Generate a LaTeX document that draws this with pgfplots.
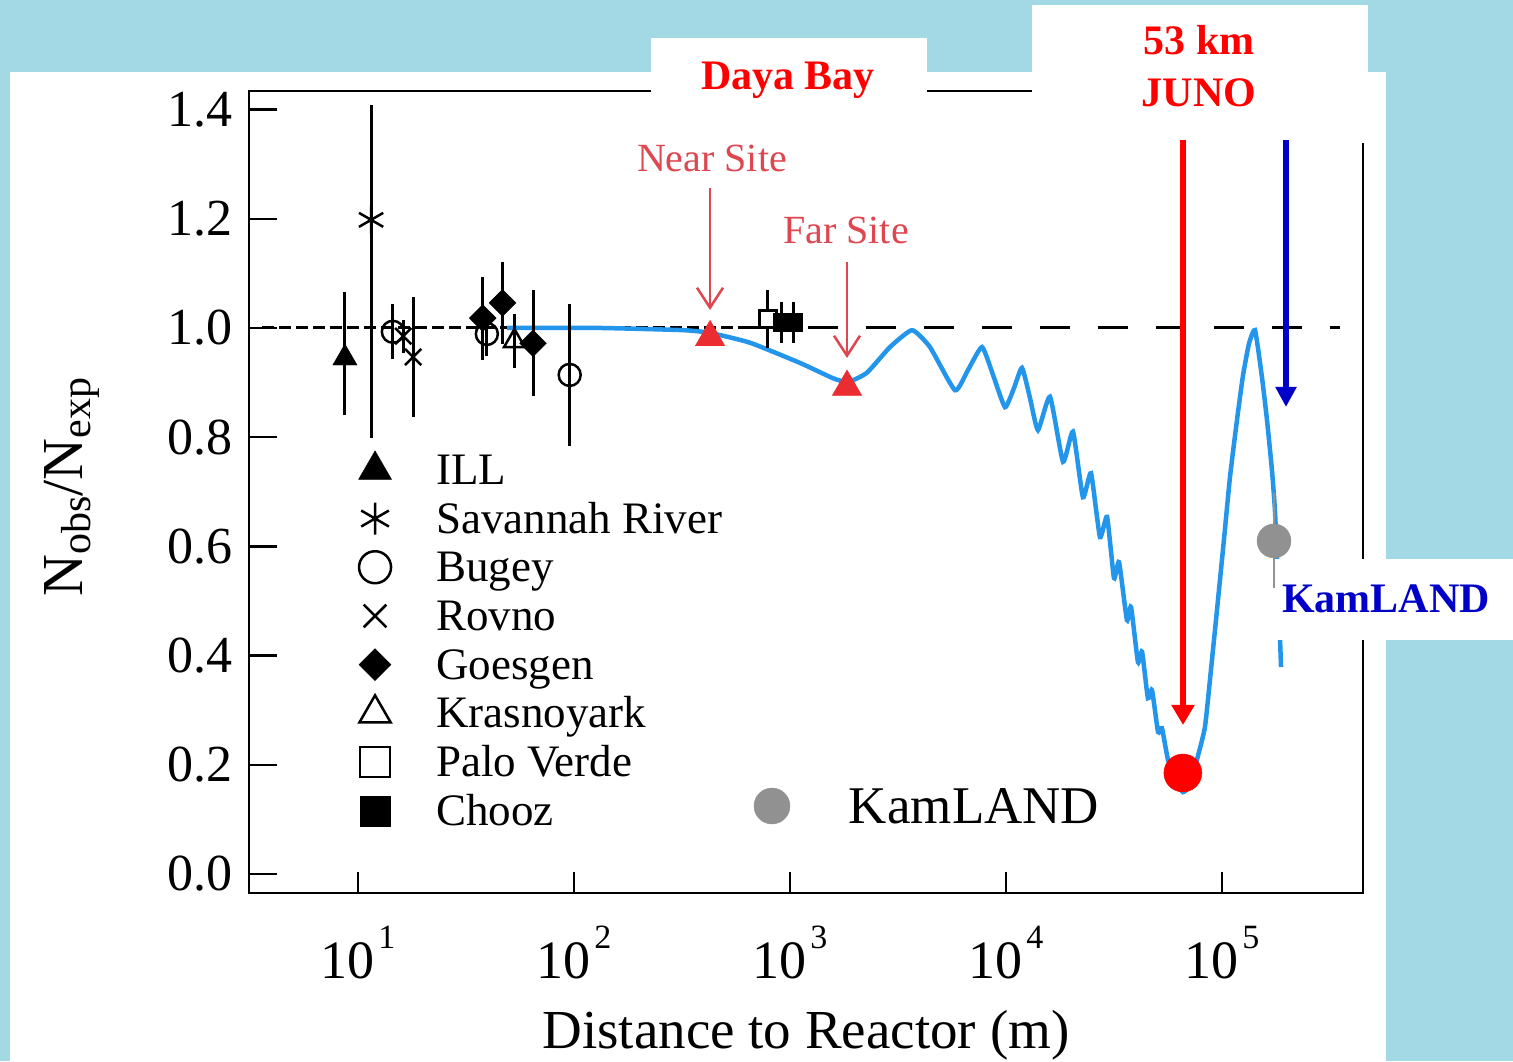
\documentclass[border=0pt]{standalone}
\usepackage{fontspec}
\setmainfont{Liberation Serif}
\usepackage{pgfplots}
\pgfplotsset{compat=1.18}
\usetikzlibrary{arrows.meta}
\definecolor{bgblue}{RGB}{163,217,228}
\definecolor{curveblue}{RGB}{35,150,235}
\definecolor{siteRed}{RGB}{222,70,80}
\definecolor{triRed}{RGB}{235,45,50}
\definecolor{kamblue}{RGB}{0,0,200}
\definecolor{kamgray}{RGB}{145,145,145}
\newcommand{\xl}[1]{10\hspace{4pt}\raisebox{30pt}{\fontsize{34}{34}\selectfont #1}}
\pgfplotsset{
  dataerr/.style={only marks, black, forget plot,
    error bars/y dir=both, error bars/y explicit, error bars/error mark=none,
    error bars/error bar style={line width=3pt, black}},
}
\begin{document}
\begin{tikzpicture}[x=1pt,y=1pt]
\useasboundingbox (0,0) rectangle (1513,1061);
\fill[bgblue] (0,0) rectangle (1513,1061);
\fill[white] (10,0) rectangle (1386,989);
\begin{axis}[
  at={(249pt,168pt)}, anchor=south west,
  scale only axis, width=1114pt, height=802pt,
  xmode=log, xmin=3.129, xmax=449600,
  ymin=-0.0348, ymax=1.434,
  axis line style={line width=2.5pt, black},
  tick align=inside, tick pos=left,
  xminorticks=false,
  xtick={10,100,1000,10000,100000},
  xticklabels={\xl{1},\xl{2},\xl{3},\xl{4},\xl{5}},
  ytick={0,0.2,0.4,0.6,0.8,1.0,1.2,1.4},
  yticklabels={0.0,0.2,0.4,0.6,0.8,1.0,1.2,1.4},
  xticklabel style={font=\fontsize{54}{54}\selectfont, anchor=base, inner sep=0pt, yshift=-85pt},
  yticklabel style={font=\fontsize{52}{52}\selectfont, anchor=east, inner sep=0pt, xshift=-16pt},
  xtick style={line width=2.5pt, black, /pgfplots/major tick length=21pt},
  ytick style={line width=2.5pt, black, /pgfplots/major tick length=28pt},
  xlabel={Distance to Reactor (m)},
  xlabel style={font=\fontsize{55}{55}\selectfont, at={(axis description cs:0.5,0)}, anchor=base, yshift=-155pt},
  ylabel={N\raisebox{-8pt}{\fontsize{42}{42}\selectfont obs}/N\raisebox{-8pt}{\fontsize{42}{42}\selectfont exp}},
  ylabel style={font=\fontsize{58}{58}\selectfont, at={([xshift=-166pt]axis description cs:0,0.506)}, anchor=base},
  legend style={at={(0.0952,0.558)}, anchor=north west, draw=none, fill=none,
    inner sep=0pt, outer sep=0pt, row sep=0pt, column sep=0pt,
    font=\fontsize{45}{45}\selectfont,
    nodes={inner sep=0pt, draw=none, text height=39pt, text depth=9.7pt}},
  legend cell align=left,
  legend image code/.code={%
    \begin{pgfinterruptboundingbox}\draw[#1] plot coordinates {(0pt,0pt)};\end{pgfinterruptboundingbox}%
    \path[draw=none, fill=none] (-20pt,-24.35pt) rectangle (61pt,24.35pt);},
]
% reference line at 1
\addplot[black, line width=3pt, dash pattern=on 12pt off 5pt, forget plot] coordinates {(3.6,1) (653,1)};
\addplot[black, line width=3pt, dash pattern=on 30pt off 28pt, forget plot] coordinates {(653,1) (350000,1)};
% oscillation curve
\addplot[curveblue, line width=4.5pt, smooth, tension=0.3, forget plot] coordinates {
(49,1.000) (132,1.000) (320,0.996) (427,0.991) (653,0.973) (1112,0.936) (1581,0.908) (1858,0.901)
(2270,0.918) (2904,0.965) (3673,0.996) (4446,0.965) (5808,0.886) (6668,0.923) (7745,0.965)
(8710,0.914) (9891,0.855) (10890,0.890) (11860,0.927) (12910,0.872) (14060,0.813) (15990,0.874)
(18370,0.755) (20420,0.810) (22710,0.690) (24750,0.734) (27230,0.617) (29370,0.654) (31620,0.542)
(33370,0.571) (36310,0.465) (37930,0.489) (40830,0.388) (42660,0.407) (45390,0.322) (47420,0.337)
(50580,0.260) (52720,0.267) (56230,0.209) (60570,0.176) (65910,0.150) (71120,0.163) (76560,0.209)
(83370,0.269) (88920,0.374) (94840,0.484) (102100,0.612) (108900,0.727) (117300,0.831) (125000,0.912)
(133300,0.971) (142200,0.996) (153100,0.910) (161500,0.832) (170300,0.740) (175800,0.667)
(181600,0.540) (185700,0.430) (187700,0.379)};
% ILL
\addplot[dataerr, mark=triangle*, mark size=14pt] coordinates {(8.7,0.945) += (0,0.12) -= (0,0.105)};
% Savannah River
\addplot[dataerr, mark=asterisk, mark size=14pt, mark options={line width=2.5pt}] coordinates {(11.5,1.198) += (0,0.21) -= (0,0.40)};
% Bugey
\addplot[dataerr, mark=o, mark size=11pt, mark options={line width=2.5pt}] coordinates {(14.5,0.993) +- (0,0.05) (39.5,0.989) +- (0,0.04) (95.5,0.914) +- (0,0.13)};
% Rovno
\addplot[dataerr, mark=x, mark size=11.5pt, mark options={line width=2.5pt}] coordinates {(16.2,0.985) +- (0,0.03) (18.0,0.947) +- (0,0.11)};
% Goesgen
\addplot[dataerr, mark=square*, mark size=9.5pt, mark options={rotate=45}] coordinates {(37.8,1.018) +- (0,0.076) (46.7,1.046) +- (0,0.075) (64.6,0.972) +- (0,0.097)};
% Krasnoyark
\addplot[dataerr, mark=triangle, mark size=12pt, mark options={line width=2.5pt}] coordinates {(53,0.976) +- (0,0.05)};
% Palo Verde
\addplot[dataerr, mark=square*, mark size=8.5pt, mark options={fill=white, draw=black, line width=2.5pt}] coordinates {(790,1.016) +- (0,0.053)};
% Chooz
\addplot[dataerr, mark=square*, mark size=9pt] coordinates {(918,1.010) +- (0,0.037) (1033,1.010) +- (0,0.037)};
% KamLAND
\addplot[only marks, forget plot, mark=*, mark size=17pt, color=kamgray,
  error bars/y dir=both, error bars/y explicit, error bars/error mark=none,
  error bars/error bar style={line width=2.5pt, kamgray}]
  coordinates {(174100,0.610) +- (0,0.087)};
% Daya Bay near / far
\addplot[only marks, forget plot, mark=triangle*, mark size=17pt, color=triRed] coordinates {(426.6,0.983) (1837,0.892)};
% JUNO
\addplot[only marks, forget plot, mark=*, mark size=19pt, color=red] coordinates {(65910,0.185)};
% legend
\addlegendimage{only marks, black, mark=triangle*, mark size=19pt}
\addlegendentry{ILL}
\addlegendimage{only marks, black, mark=asterisk, mark size=16pt, mark options={line width=2.5pt}}
\addlegendentry{Savannah River}
\addlegendimage{only marks, black, mark=o, mark size=16pt, mark options={line width=2.5pt}}
\addlegendentry{Bugey}
\addlegendimage{only marks, black, mark=x, mark size=16pt, mark options={line width=2.5pt}}
\addlegendentry{Rovno}
\addlegendimage{only marks, black, mark=square*, mark size=11.3pt, mark options={rotate=45}}
\addlegendentry{Goesgen}
\addlegendimage{only marks, black, mark=triangle, mark size=18pt, mark options={line width=2.5pt}}
\addlegendentry{Krasnoyark}
\addlegendimage{only marks, black, mark=square, mark size=15pt, mark options={line width=2.5pt}}
\addlegendentry{Palo Verde}
\addlegendimage{only marks, black, mark=square*, mark size=15pt}
\addlegendentry{Chooz}
\end{axis}
\begin{axis}[
  at={(249pt,168pt)}, anchor=south west,
  scale only axis, width=1114pt, height=802pt,
  xmin=0, xmax=1, ymin=0, ymax=1, hide axis,
  legend style={at={(0.4515,0.1384)}, anchor=north west, draw=none, fill=none,
    inner sep=0pt, outer sep=0pt, row sep=0pt, column sep=0pt,
    font=\fontsize{53}{53}\selectfont,
    nodes={inner sep=0pt, draw=none, text height=41pt, text depth=7pt}},
  legend cell align=left,
  legend image code/.code={%
    \begin{pgfinterruptboundingbox}\draw[#1] plot coordinates {(0pt,0pt)};\end{pgfinterruptboundingbox}%
    \path[draw=none, fill=none] (-20pt,-24pt) rectangle (77pt,24pt);},
]
\addlegendimage{only marks, mark=*, mark size=18pt, color=kamgray}
\addlegendentry{KamLAND}
\end{axis}
% white label boxes
\fill[white] (651,961) rectangle (927,1023);
\fill[white] (1032,918) rectangle (1368,1056);
\fill[white] (1275,421) rectangle (1513,502);
% labels
\node[anchor=base, text=red, font=\fontsize{42}{42}\selectfont\bfseries, inner sep=0pt] at (788,971) {Daya Bay};
\node[anchor=base, text=red, font=\fontsize{42}{42}\selectfont\bfseries, inner sep=0pt] at (1199,1006) {53 km};
\node[anchor=base, text=red, font=\fontsize{42}{42}\selectfont\bfseries, inner sep=0pt] at (1199,954) {JUNO};
\node[anchor=base, text=kamblue, font=\fontsize{42}{42}\selectfont\bfseries, inner sep=0pt] at (1386,448) {KamLAND};
\node[anchor=base, text=siteRed, font=\fontsize{40}{40}\selectfont, inner sep=0pt] at (712,889) {Near Site};
\node[anchor=base, text=siteRed, font=\fontsize{40}{40}\selectfont, inner sep=0pt] at (846,817) {Far Site};
% arrows
\draw[siteRed, line width=2.5pt, -{Straight Barb[length=20pt, width=26pt]}] (710,873) -- (710,751);
\draw[siteRed, line width=2.5pt, -{Straight Barb[length=20pt, width=26pt]}] (847,799) -- (847,703);
\draw[red, line width=5.5pt, -{Triangle[length=20pt, width=22pt]}] (1183,921) -- (1183,336);
\draw[kamblue, line width=5.5pt, -{Triangle[length=20pt, width=20pt]}] (1286,921) -- (1286,654);
\end{tikzpicture}
\end{document}
